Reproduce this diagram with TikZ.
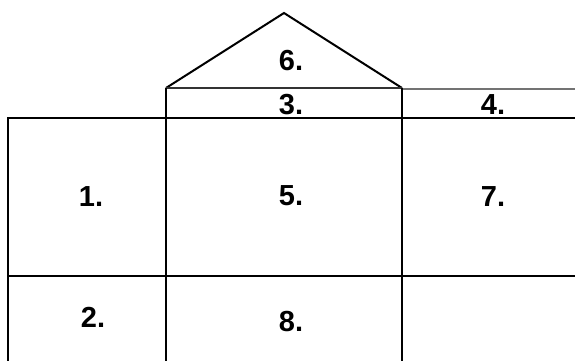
\documentclass[tikz,border=0pt]{standalone}
\usepackage{fontspec}
\setmainfont{Liberation Sans}
\begin{document}
\begin{tikzpicture}[x=1pt, y=-1pt,
    wall/.style={draw, line width=2.6pt},
    roof/.style={draw, line width=2pt, line join=miter},
    num/.style={font=\fontsize{29}{30}\selectfont\bfseries, inner sep=0pt}]
  \useasboundingbox (0,0) rectangle (575,361);
  % roof
  \draw[roof] (166,88) -- (284,13) -- (402,88);
  \draw[line width=2pt, black!80] (166,88) -- (402,88);
  \draw[line width=1.5pt, black!55] (402,89) -- (575,89);
  % walls and floors
  \draw[wall] (8,361) -- (8,118) -- (575,118);
  \draw[wall] (8,276) -- (575,276);
  \draw[wall] (166,88) -- (166,361);
  \draw[wall] (402,88) -- (402,361);
  % room numbers
  \node[num] (r6) at (291,61) {6.};
  \node[num] (r3) at (291,105) {3.};
  \node[num] (r4) at (493,105) {4.};
  \node[num] (r1) at (91,197) {1.};
  \node[num] (r5) at (291,196) {5.};
  \node[num] (r7) at (493,197) {7.};
  \node[num] (r2) at (93,317) {2.};
  \node[num] (r8) at (291,322) {8.};
\end{tikzpicture}
\end{document}
